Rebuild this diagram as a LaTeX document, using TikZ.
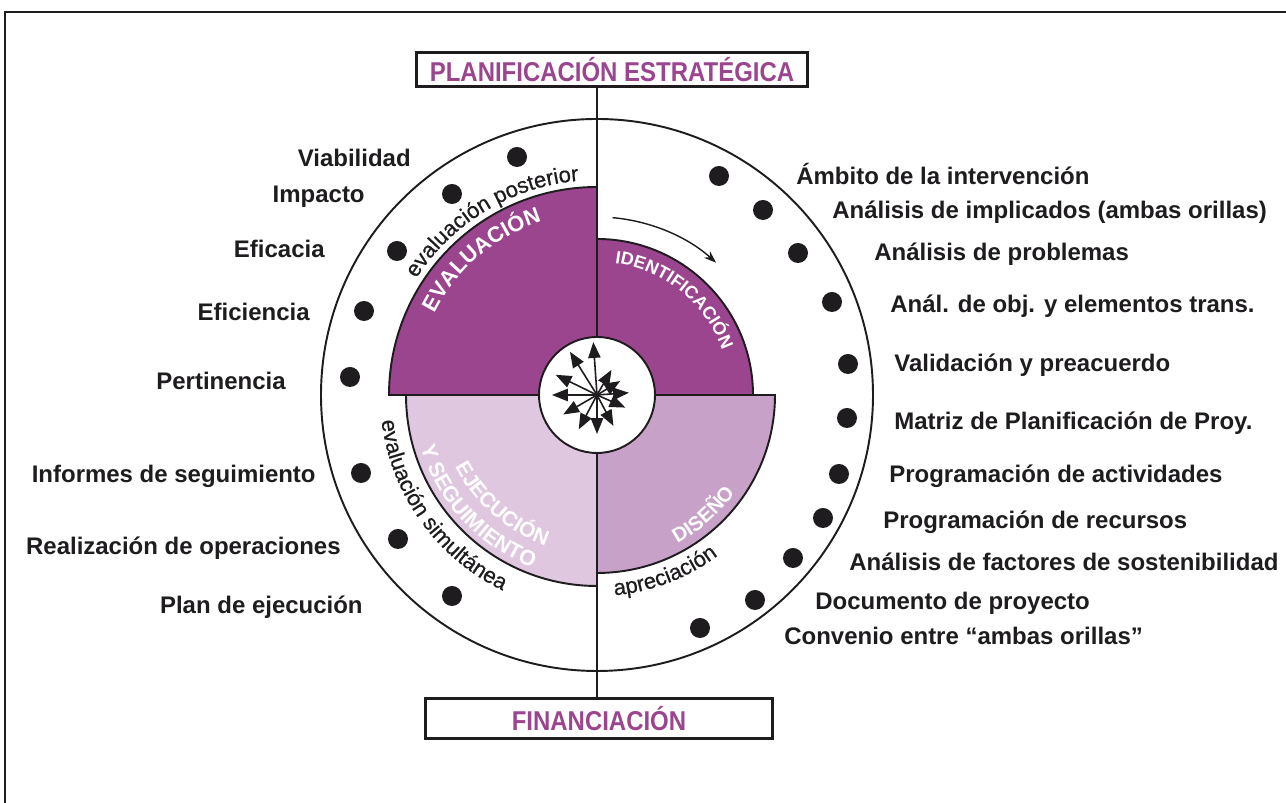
\documentclass[tikz,border=0pt]{standalone}
\usepackage{fontspec}
\setmainfont{Liberation Sans}
\newfontfamily\titlefont[FakeStretch=0.88]{Liberation Sans}
\newfontfamily\medfont[FakeBold=0.6]{Liberation Sans}
\usetikzlibrary{decorations.text,arrows.meta,calc}
\definecolor{pdark}{RGB}{155,69,143}
\definecolor{pmid}{RGB}{200,161,200}
\definecolor{plight}{RGB}{223,199,223}
\definecolor{ink}{RGB}{30,28,30}
\begin{document}
\begin{tikzpicture}[x=0.02cm,y=0.02cm,
  lab/.style={font=\fontsize{13.65pt}{16pt}\selectfont\bfseries, text=ink, inner sep=0pt},
  labL/.style={lab, anchor=base east},
  labR/.style={lab, anchor=base west},
  dot/.style={circle, fill=ink, minimum size=0.4cm, inner sep=0pt},
  titlebox/.style={draw=ink, line width=1.7pt, fill=white, inner sep=0pt,
    font=\titlefont\bfseries\fontsize{15.5pt}{18pt}\selectfont, text=pdark},
  edge/.style={draw=ink, line width=1.1pt},
  star/.style={draw=ink, line width=0.9pt, -{Triangle[length=9pt,width=7pt]}},
  ctext/.style={decorate, decoration={text along path, text align=center, text color=#1}}
]
\useasboundingbox (0,0) rectangle (1286,803);
\fill[white] (0,0) rectangle (1286,803);
\coordinate (C) at (597,408);
% frame
\coordinate (F1) at (5,0);
\coordinate (F2) at (5,791);
\coordinate (F3) at (1290,791);
\draw[ink, line width=1.6pt] (F1) -- (F2) -- (F3);
% boxes
\node[titlebox, minimum width=7.84cm, minimum height=0.68cm] (plan) at (612,733) {PLANIFICACIÓN ESTRATÉGICA};
\node[titlebox, minimum width=6.96cm, minimum height=0.8cm] (fin) at (599,84) {FINANCIACIÓN};
% outer circle
\draw[edge] (C) circle[radius=276];
% vertical axis
\draw[edge] (plan.south -| C) -- (fin.north -| C);
% quarters
\filldraw[edge, fill=pdark] (C) -- ++(0,208) arc[start angle=90, end angle=180, radius=208] -- cycle;
\filldraw[edge, fill=pdark] (C) -- ++(156,0) arc[start angle=0, end angle=90, radius=156] -- cycle;
\filldraw[edge, fill=pmid] (C) -- ++(178,0) arc[start angle=0, end angle=-90, radius=178] -- cycle;
\filldraw[edge, fill=plight] (C) -- ++(-191,0) arc[start angle=180, end angle=270, radius=191] -- cycle;
% centre circle with arrows
\filldraw[edge, fill=white] (C) circle[radius=58];
\foreach \a/\r in {94/53,122/51,154/46,180/45,210/39,242/39,270/39,298/35,336/31,4/32,31/27,60/29}
  \draw[star] (C) -- ++(\a:\r);
% rotation arrow
\draw[ink, line width=0.8pt, -{Stealth[length=7pt,width=5pt]}] ($(C)+(85:178)$) arc[start angle=85, end angle=48, radius=178];
% curved texts
\path[ctext=ink, decoration={text={|\medfont\fontsize{12.5pt}{14pt}\selectfont|evaluación posterior}}]
  ($(C)+(171:215)$) arc[start angle=171, end angle=71, radius=215];
\path[ctext=white, decoration={text={|\bfseries\fontsize{12.5pt}{14pt}\selectfont|EVALUACIÓN}}]
  ($(C)+(175:182)$) arc[start angle=175, end angle=86, radius=182];
\path[ctext=white, decoration={text={|\bfseries\fontsize{10.2pt}{12pt}\selectfont|IDENTIFICACIÓN}}]
  ($(C)+(96:133)$) arc[start angle=96, end angle=6, radius=133];
\path[ctext=white, decoration={text={|\bfseries\fontsize{12pt}{14pt}\selectfont|EJECUCIÓN}}]
  ($(C)+(184:159)$) arc[start angle=184, end angle=274, radius=159];
\path[ctext=white, decoration={text={|\bfseries\fontsize{12.2pt}{14pt}\selectfont|Y SEGUIMIENTO}}]
  ($(C)+(178:184)$) arc[start angle=178, end angle=268, radius=184];
\path[ctext=white, decoration={text={|\bfseries\fontsize{11.5pt}{14pt}\selectfont|DISEÑO}}]
  ($(C)+(-93.5:169)$) arc[start angle=-93.5, end angle=-3.5, radius=169];
\path[ctext=ink, decoration={text={|\medfont\fontsize{12.5pt}{14pt}\selectfont|apreciación}}]
  ($(C)+(-114:201)$) arc[start angle=-114, end angle=-24, radius=201];
\path[ctext=ink, decoration={text={|\medfont\fontsize{12.5pt}{14pt}\selectfont|evaluación simultánea}}]
  ($(C)+(170.5:217)$) arc[start angle=170.5, end angle=260.5, radius=217];
% left dots and labels
\node[dot] (dl1) at (517,646) {};
\node[dot] (dl2) at (452,609) {};
\node[dot] (dl3) at (397,552) {};
\node[dot] (dl4) at (364,492) {};
\node[dot] (dl5) at (350,426) {};
\node[dot] (dl6) at (361,330) {};
\node[dot] (dl7) at (398,264) {};
\node[dot] (dl8) at (452,207) {};
\node[labL] (ll1) at (411,636) {Viabilidad};
\node[labL] (ll2) at (365,600) {Impacto};
\node[labL] (ll3) at (325,545) {Eficacia};
\node[labL] (ll4) at (310,482) {Eficiencia};
\node[labL] (ll5) at (286,413) {Pertinencia};
\node[labL] (ll6) at (316,320) {Informes de seguimiento};
\node[labL] (ll7) at (341,248) {Realización de operaciones};
\node[labL] (ll8) at (363,189) {Plan de ejecución};
% right dots and labels
\node[dot] (dr1) at (719,627) {};
\node[dot] (dr2) at (763,593) {};
\node[dot] (dr3) at (798,550) {};
\node[dot] (dr4) at (832,501) {};
\node[dot] (dr5) at (848,439) {};
\node[dot] (dr6) at (847,385) {};
\node[dot] (dr7) at (839,329) {};
\node[dot] (dr8) at (823,285) {};
\node[dot] (dr9) at (793,245) {};
\node[dot] (dr10) at (755,203) {};
\node[dot] (dr11) at (700,175) {};
\node[labR] (lr1) at (796,618) {Ámbito de la intervención};
\node[labR] (lr2) at (832,584) {Análisis de implicados (ambas orillas)};
\node[labR] (lr3) at (874,542) {Análisis de problemas};
\node[labR] (lr4) at (890,490) {Anál. de obj. y elementos trans.};
\node[labR] (lr5) at (894,431) {Validación y preacuerdo};
\node[labR] (lr6) at (894,373) {Matriz de Planificación de Proy.};
\node[labR] (lr7) at (889,320) {Programación de actividades};
\node[labR] (lr8) at (883,274) {Programación de recursos};
\node[labR] (lr9) at (849,232) {Análisis de factores de sostenibilidad};
\node[labR] (lr10) at (815,193) {Documento de proyecto};
\node[labR] (lr11) at (784,158) {Convenio entre “ambas orillas”};
\end{tikzpicture}
\end{document}
